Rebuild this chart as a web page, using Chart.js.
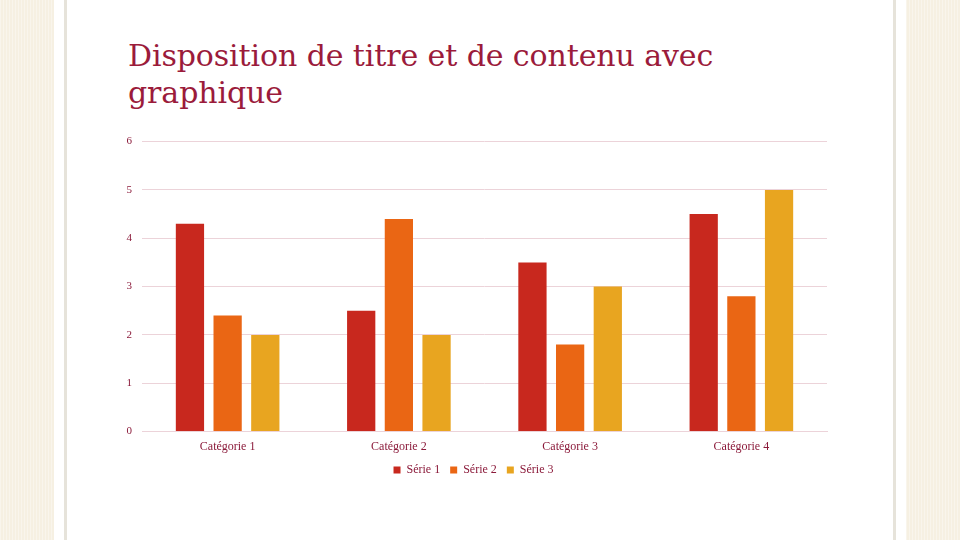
<!DOCTYPE html>
<html>
<head>
<meta charset="utf-8">
<script src="https://cdn.jsdelivr.net/npm/chart.js"></script>
<style>
  html, body { margin: 0; padding: 0; }
  body {
    width: 960px; height: 540px; overflow: hidden; position: relative;
    background: #f6f0e2;
    background-image: repeating-linear-gradient(90deg, rgba(255,255,255,0.35) 0 1px, transparent 1px 3px);
  }
  #sheet { position: absolute; left: 54px; top: 0; width: 852px; height: 540px; background: #fff; }
  #frame { position: absolute; left: 64px; top: -2px; width: 826px; height: 560px;
    border-left: 3px solid #e6e3da; border-right: 3px solid #e6e3da; }
  #title { position: absolute; left: 128px; top: 37px; margin: 0; white-space: nowrap;
    font-family: "DejaVu Serif", serif; font-weight: normal; font-size: 30px; line-height: 37px;
    letter-spacing: -0.1px; color: #9b1b3b; }
  #wrap { position: absolute; left: 100px; top: 125px; width: 740px; height: 361px; }
</style>
</head>
<body>
<div id="sheet"></div>
<div id="frame"></div>
<h1 id="title">Disposition de titre et de contenu avec<br>graphique</h1>
<div id="wrap"><canvas id="chart"></canvas></div>
<script>
const categories = ['Catégorie 1', 'Catégorie 2', 'Catégorie 3', 'Catégorie 4'];
const serie1 = [4.3, 2.5, 3.5, 4.5];
const serie2 = [2.4, 4.4, 1.8, 2.8];
const serie3 = [2, 2, 3, 5];
const seriesNames = ['Série 1', 'Série 2', 'Série 3'];
const seriesColors = ['#c8281e', '#ea6614', '#e8a520'];

const textColor = '#8b1a3a';
const gridColor = '#ecd3d9';

Chart.defaults.font.family = '"Liberation Serif", serif';
Chart.defaults.color = textColor;

new Chart(document.getElementById('chart'), {
  type: 'bar',
  data: {
    labels: categories,
    datasets: [serie1, serie2, serie3].map((d, i) => ({
      label: seriesNames[i],
      data: d,
      backgroundColor: seriesColors[i],
      categoryPercentage: 0.66,
      barPercentage: 0.75
    }))
  },
  options: {
    responsive: true,
    maintainAspectRatio: false,
    animation: false,
    layout: { padding: { top: 6, right: 13, bottom: 0, left: 20 } },
    plugins: {
      legend: {
        position: 'bottom',
        labels: { boxWidth: 7, boxHeight: 7, padding: 10, font: { size: 12 }, color: textColor }
      },
      tooltip: { enabled: false }
    },
    scales: {
      x: {
        grid: { display: false, drawTicks: false },
        border: { color: gridColor },
        ticks: { font: { size: 12 }, padding: 8 },
        afterFit: s => { s.height -= 8; }
      },
      y: {
        min: 0, max: 6,
        ticks: { stepSize: 1, font: { size: 11 }, padding: 10 },
        grid: { color: gridColor, drawTicks: false },
        border: { display: false },
        afterFit: s => { s.width = 22; }
      }
    }
  }
});
</script>
</body>
</html>
